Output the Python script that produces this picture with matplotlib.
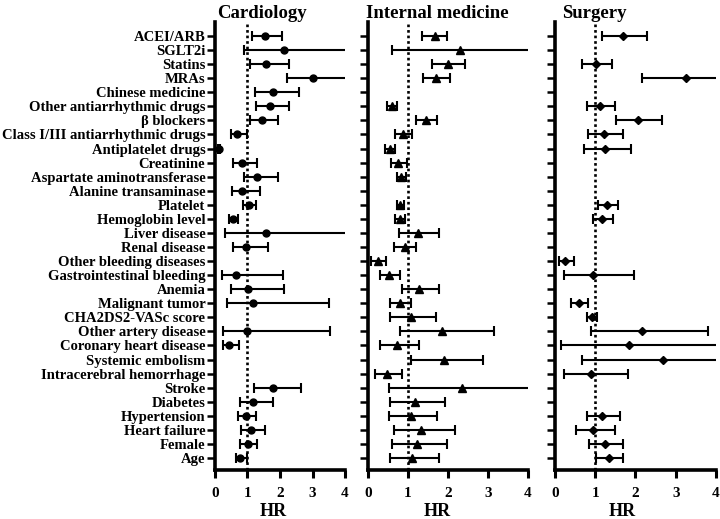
import matplotlib
matplotlib.use('Agg')
import matplotlib.pyplot as plt
import numpy as np

plt.rcParams['font.family'] = ['Liberation Serif', 'DejaVu Serif']
plt.rcParams['font.weight'] = 'bold'

nan = np.nan

labels = ["ACEI/ARB", "SGLT2i", "Statins", "MRAs", "Chinese medicine",
          "Other antiarrhythmic drugs", "β blockers", "Class I/III antiarrhythmic drugs",
          "Antiplatelet drugs", "Creatinine", "Aspartate aminotransferase",
          "Alanine transaminase", "Platelet", "Hemoglobin level", "Liver disease",
          "Renal disease", "Other bleeding diseases", "Gastrointestinal bleeding",
          "Anemia", "Malignant tumor", "CHA2DS2-VASc score", "Other artery disease",
          "Coronary heart disease", "Systemic embolism", "Intracerebral hemorrhage",
          "Stroke", "Diabetes", "Hypertension", "Heart failure", "Female", "Age"]

# Cardiology (upper values > 4 run off the axis)
card_hr = [1.54, 2.13, 1.56, 3.00, 1.77, 1.69, 1.45, 0.69, 0.12, 0.84, 1.30, 0.84, 1.04, 0.54,
           1.57, 0.95, nan, 0.65, 1.03, 1.16, nan, 0.97, 0.44, nan, nan, 1.77, 1.16, 0.95,
           1.11, 1.01, 0.77]
card_lo = [1.15, 0.90, 1.08, 2.20, 1.22, 1.26, 1.07, 0.49, 0.08, 0.54, 0.88, 0.51, 0.85, 0.43,
           0.31, 0.54, nan, 0.21, 0.49, 0.36, nan, 0.24, 0.26, nan, nan, 1.21, 0.77, 0.70,
           0.79, 0.77, 0.64]
card_hi = [2.05, 5.00, 2.29, 5.00, 2.58, 2.28, 1.95, 0.97, 0.16, 1.30, 1.93, 1.38, 1.25, 0.72,
           5.00, 1.62, nan, 2.08, 2.13, 3.52, nan, 3.54, 0.73, nan, nan, 2.65, 1.79, 1.26,
           1.55, 1.30, 0.97]

# Internal medicine
im_hr = [1.68, 2.29, 2.00, 1.71, nan, 0.60, 1.46, 0.88, 0.54, 0.75, 0.82, nan, 0.81, 0.79,
         1.24, 0.92, 0.25, 0.53, 1.28, 0.79, 1.07, 1.85, 0.73, 1.90, 0.48, 2.36, 1.17, 1.07,
         1.32, 1.23, 1.10]
im_lo = [1.36, 0.60, 1.61, 1.38, nan, 0.48, 1.21, 0.68, 0.43, 0.58, 0.73, nan, 0.72, 0.68,
         0.77, 0.64, 0.08, 0.29, 0.85, 0.54, 0.54, 0.81, 0.31, 1.08, 0.17, 0.52, 0.56, 0.53,
         0.64, 0.61, 0.54]
im_hi = [1.98, 5.00, 2.43, 2.04, nan, 0.73, 1.73, 1.10, 0.67, 0.98, 0.96, nan, 0.91, 0.93,
         1.77, 1.21, 0.46, 0.79, 1.78, 1.07, 1.71, 3.14, 1.28, 2.88, 0.86, 5.00, 1.92, 1.73,
         2.18, 1.98, 1.77]

# Surgery
sur_hr = [1.70, nan, 1.01, 3.25, nan, 1.12, 2.07, 1.23, 1.24, nan, nan, nan, 1.30, 1.18,
          nan, nan, 0.26, 0.95, nan, 0.60, 0.91, 2.17, 1.83, 2.69, 0.89, nan, nan, 1.18,
          0.95, 1.24, 1.34]
sur_lo = [1.18, nan, 0.68, 2.15, nan, 0.79, 1.52, 0.83, 0.72, nan, nan, nan, 1.06, 0.94,
          nan, nan, 0.10, 0.22, nan, 0.41, 0.79, 0.89, 0.15, 0.68, 0.22, nan, nan, 0.79,
          0.51, 0.85, 1.02]
sur_hi = [2.29, nan, 1.41, 5.00, nan, 1.49, 2.67, 1.68, 1.89, nan, nan, nan, 1.56, 1.43,
          nan, nan, 0.48, 1.96, nan, 0.81, 1.05, 3.81, 5.00, 5.00, 1.82, nan, nan, 1.61,
          1.49, 1.68, 1.70]

# title, data, marker, marker size, [left, width], title x, HR label x (axes fraction)
panels = [("Cardiology", card_hr, card_lo, card_hi, "o", 5.0, [0.2986, 0.1806], 0.015, 0.446),
          ("Internal medicine", im_hr, im_lo, im_hi, "^", 6.0, [0.5111, 0.2222], -0.01, 0.43),
          ("Surgery", sur_hr, sur_lo, sur_hi, "D", 4.5, [0.7708, 0.2236], 0.043, 0.416)]

fig = plt.figure(figsize=(7.2, 5.19), dpi=100)
y = np.arange(len(labels))

for k, (title, hr, lo, hi, mk, ms, (left, w), tx, hrx) in enumerate(panels):
    ax = fig.add_axes([left, 0.0935, w, 0.864])
    hr, lo, hi = map(np.array, (hr, lo, hi))
    ok = ~np.isnan(hr)
    ax.axvline(1, color="black", ls=(0, (1, 1.1)), lw=1.9, zorder=1)
    ax.errorbar(hr[ok], y[ok], xerr=[hr[ok] - lo[ok], hi[ok] - hr[ok]], fmt=mk,
                color="black", ms=ms, elinewidth=1.5, capsize=3.5, capthick=1.5, zorder=3)
    ax.set_xlim(0, 4)
    ax.set_ylim(len(labels) - 0.11, -0.995)
    ax.set_xticks([0, 1, 2, 3, 4])
    ax.set_yticks(y)
    if k == 0:
        ax.set_yticklabels(labels, fontsize=10.5, fontweight="bold")
    else:
        ax.set_yticklabels([])
    for s in ("top", "right"):
        ax.spines[s].set_visible(False)
    for s in ("left", "bottom"):
        ax.spines[s].set_linewidth(2.6)
    ax.tick_params(axis="y", length=6, width=1.8, pad=1)
    ax.tick_params(axis="x", length=6, width=2.2, labelsize=11, pad=6)
    for t in ax.get_xticklabels():
        t.set_fontweight("bold")
    t = ax.set_title(title, fontsize=13.5, fontweight="bold", pad=2, loc="left")
    t.set_x(tx)
    ax.set_xlabel("HR", fontsize=13, fontweight="bold")
    ax.xaxis.set_label_coords(hrx, -0.072)

fig.savefig("out.png", dpi=100)
